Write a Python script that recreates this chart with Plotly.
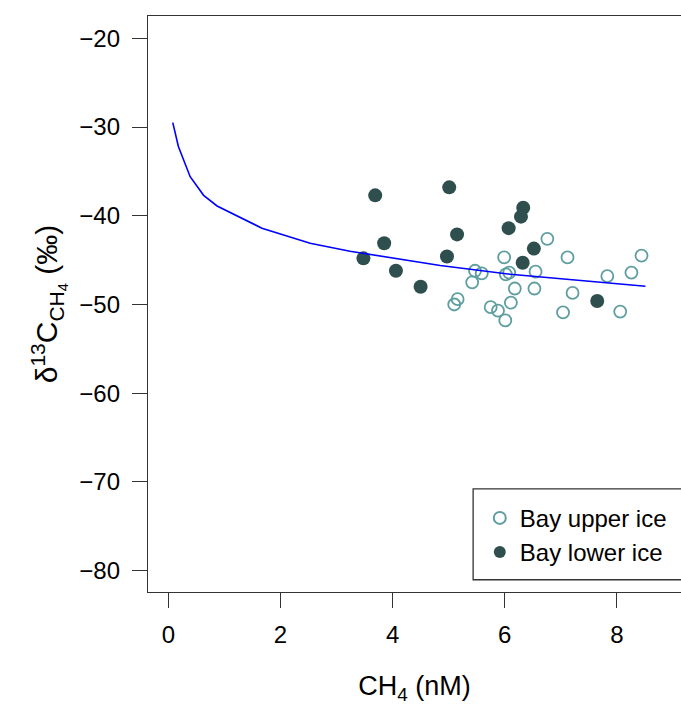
import plotly.graph_objects as go

# Bay upper ice (open circles)
upper_x = [5.47, 5.59, 5.42, 5.16, 5.10, 5.75, 5.88, 6.01, 5.99, 6.02, 6.08, 6.18,
           6.11, 6.76, 6.55, 6.53, 7.12, 7.21, 7.04, 7.83, 8.26, 8.44, 8.06]
upper_y = [-46.2, -46.5, -47.5, -49.4, -50.0, -50.3, -50.7, -51.8, -44.7, -46.6, -46.4, -48.2,
           -49.8, -42.6, -46.3, -48.2, -44.7, -48.7, -50.9, -46.8, -46.4, -44.5, -50.8]

# Bay lower ice (filled circles)
lower_x = [3.69, 5.01, 3.85, 3.48, 4.06, 4.50, 5.15, 4.97, 6.33, 6.29, 6.07, 6.52, 6.32, 7.65]
lower_y = [-37.7, -36.8, -43.1, -44.8, -46.2, -48.0, -42.1, -44.6, -39.1, -40.1, -41.4, -43.7, -45.3, -49.6]

# Model curve
curve_x = [0.08, 0.18, 0.39, 0.63, 0.87, 1.67, 2.53, 3.24, 4.85, 6.10, 8.51]
curve_y = [-29.5, -32.2, -35.6, -37.7, -38.9, -41.4, -43.1, -44.0, -45.6, -46.6, -47.95]

x_ticks = [0, 2, 4, 6, 8]
y_ticks = [-80, -70, -60, -50, -40, -30, -20]

FONT = "Liberation Sans, Arial, sans-serif"
fig = go.Figure()
fig.add_trace(go.Scatter(
    x=upper_x, y=upper_y, mode="markers", name="Bay upper ice",
    marker=dict(symbol="circle-open", size=12, color="#5F9EA0", line=dict(width=1.8, color="#5F9EA0")),
))
fig.add_trace(go.Scatter(
    x=lower_x, y=lower_y, mode="markers", name="Bay lower ice",
    marker=dict(symbol="circle", size=14, color="#2F4F4F", line=dict(width=0)),
))
fig.add_trace(go.Scatter(
    x=curve_x, y=curve_y, mode="lines", showlegend=False,
    line=dict(color="#0000FF", width=1.6),
))

fig.update_layout(
    width=681, height=705,
    margin=dict(l=147.7, r=0, t=15.7, b=112.7, autoexpand=False),
    paper_bgcolor="white", plot_bgcolor="white",
    font=dict(family=FONT, size=24, color="black"),
    showlegend=True,
    legend=dict(
        x=0.6225, y=0.167, xanchor="left", yanchor="top",
        bgcolor="rgba(0,0,0,0)", borderwidth=0,
        font=dict(size=24, family=FONT),
        itemsizing="constant",
    ),
    shapes=[dict(type="rect", xref="paper", yref="paper",
                 x0=0.61, x1=1.05, y0=0.0213, y1=0.179,
                 line=dict(color="#333333", width=1.3), fillcolor="rgba(0,0,0,0)")],
)
fig.update_xaxes(
    range=[-0.362, 9.144], tickvals=x_ticks, ticks="outside", ticklen=15, tickwidth=1.3,
    tickcolor="#333333", showline=True, linecolor="#333333", linewidth=1.3, mirror=True,
    showgrid=False, zeroline=False, ticklabelstandoff=6,
    title=dict(text="CH<sub>4</sub> (nM)", standoff=30, font=dict(size=27)),
)
fig.update_yaxes(
    range=[-82.4, -17.49], tickvals=y_ticks, ticks="outside", ticklen=15, tickwidth=1.3,
    tickcolor="#333333", showline=True, linecolor="#333333", linewidth=1.3, mirror=False,
    showgrid=False, zeroline=False, ticklabelstandoff=7,
    title=dict(text="δ<sup>13</sup>C<sub>CH<sub>4</sub></sub>&nbsp;(‰)", standoff=12, font=dict(size=30)),
)

fig.write_html("out.html", config={"displayModeBar": False},
               post_script="document.body.style.margin='0';document.body.style.overflow='hidden';")
